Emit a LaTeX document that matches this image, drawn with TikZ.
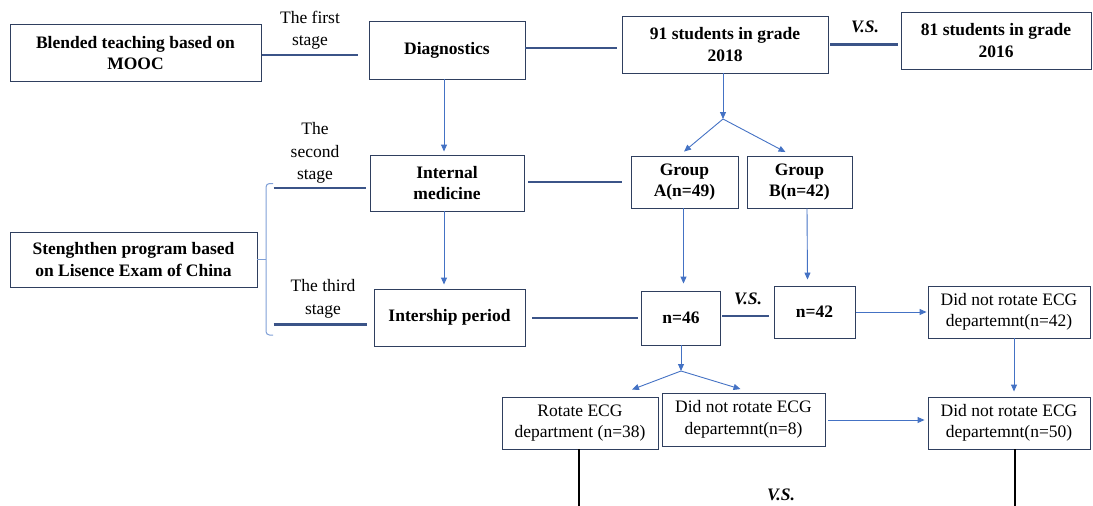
\documentclass[tikz,border=0pt]{standalone}
\usepackage{fontspec}
\setmainfont{Liberation Serif}
\usetikzlibrary{arrows.meta}
\definecolor{boxline}{HTML}{2F3F5F}
\definecolor{thickline}{HTML}{3B5488}
\definecolor{thinarrow}{HTML}{4472C4}
\definecolor{bracecol}{HTML}{7F9FD6}
\tikzset{
  bx/.style={draw=boxline, line width=0.9pt, align=center, inner sep=0pt,
    font=\fontsize{17.5}{21.5}\selectfont\bfseries},
  bxr/.style={bx, font=\fontsize{17.5}{21.5}\selectfont},
  lbl/.style={align=center, inner sep=0pt, font=\fontsize{17.5}{22.5}\selectfont},
  vs/.style={inner sep=0pt, font=\fontsize{17.5}{21}\selectfont\bfseries\itshape},
  link/.style={draw=thickline, line width=2.6pt},
  flow/.style={draw=thinarrow, line width=0.9pt, -{Triangle[length=7pt,width=6pt]}},
  tail/.style={draw=black, line width=2pt},
}
\begin{document}
\begin{tikzpicture}[x=1pt,y=-1pt]
\useasboundingbox (0,0) rectangle (1093,506);

% boxes
\node[bx, minimum width=251pt, minimum height=57pt] (blend) at (135.5,53) {Blended teaching based on\\MOOC};
\node[bx, minimum width=156pt, minimum height=58pt] (diag) at (447,50) {Diagnostics};
\node[bx, minimum width=206pt, minimum height=57pt] (g91) at (725,44.5) {91 students in grade\\2018};
\node[bx, minimum width=190pt, minimum height=57pt] (g81) at (996,40.5) {81 students in grade\\2016};
\node[bx, minimum width=154pt, minimum height=56pt] (intmed) at (447,183) {Internal\\medicine};
\node[bx, minimum width=107pt, minimum height=52pt] (grpA) at (684.5,182) {Group\\A(n=49)};
\node[bx, minimum width=105pt, minimum height=52pt] (grpB) at (799.5,182) {Group\\B(n=42)};
\node[bx, minimum width=247pt, minimum height=55pt] (streng) at (133.5,259.5) {Stenghthen program based\\on Lisence Exam of China};
\node[bx, minimum width=151pt, minimum height=57pt] (intern) at (449.5,317.5) {Intership period};
\node[bx, minimum width=79pt, minimum height=54pt] (n46) at (681,318) {n=46};
\node[bx, minimum width=81pt, minimum height=52pt] (n42) at (814.5,312) {n=42};
\node[bxr, minimum width=162pt, minimum height=52pt] (dn42) at (1009,312) {Did not rotate ECG\\departemnt(n=42)};
\node[bxr, minimum width=156pt, minimum height=52pt] (rot38) at (580,423) {Rotate ECG\\department (n=38)};
\node[bxr, minimum width=163pt, minimum height=53pt] (dn8) at (743.5,419.5) {Did not rotate ECG\\departemnt(n=8)};
\node[bxr, minimum width=162pt, minimum height=52pt] (dn50) at (1009,423) {Did not rotate ECG\\departemnt(n=50)};

% stage labels and comparison marks
\node[lbl] (st1) at (310,30) {The first\\stage};
\node[lbl] (st2) at (315,153) {The\\second\\stage};
\node[lbl] (st3) at (323,299) {The third\\stage};
\node[vs] (vs1) at (865,27) {V.S.};
\node[vs] (vs2) at (748,299) {V.S.};
\node[vs] (vs3) at (781,495) {V.S.};

% brace joining the second and third stages
\coordinate (brace) at (266,259.5);
\draw[draw=bracecol, line width=1pt, rounded corners=3.5pt]
  (273,183.5) -- (266,183.5) -- (266,335) -- (273,335);
\draw[draw=bracecol, line width=1pt] (streng.east) -- (brace);

% stage links (horizontal)
\coordinate (s2) at (273.5,188);
\coordinate (s3) at (273.5,324.5);
\draw[link] ([shift={(1pt,-2pt)}]blend.east) coordinate (l1) -- ([xshift=-11pt]diag.west |- l1);
\draw[link] ([yshift=2pt]diag.east) coordinate (l2) -- ([xshift=-5pt]g91.west |- l2);
\draw[link] ([xshift=2pt]g91.east) coordinate (l3) -- ([xshift=-3pt]g81.west |- l3);
\draw[link] (s2) -- ([xshift=-4pt]intmed.west |- s2);
\draw[link] ([shift={(4pt,1pt)}]intmed.east) coordinate (l4) -- ([xshift=-9pt]grpA.west |- l4);
\draw[link] (s3) -- ([xshift=-7pt]intern.west |- s3);
\draw[link] ([shift={(7pt,-0.5pt)}]intern.east) coordinate (l5) -- ([xshift=-3pt]n46.west |- l5);
\draw[link] ([shift={(1.5pt,2pt)}]n46.east) coordinate (l6) -- ([xshift=-5pt]n42.west |- l6);

% flow arrows
\draw[flow] ([xshift=-3pt]diag.south) -- ([shift={(-3pt,3pt)}]intmed.north);
\draw[flow] ([xshift=-3pt]intmed.south) -- ([shift={(-5.5pt,4pt)}]intern.north);
\coordinate (fk1) at (723,119);
\draw[flow] ([xshift=-2pt]g91.south) -- (fk1);
\draw[flow] (fk1) -- ([shift={(-0.5pt,4pt)}]grpA.north);
\draw[flow] (fk1) -- ([shift={(-14pt,3.5pt)}]grpB.north);
\draw[flow] ([xshift=-1pt]grpA.south) -- ([shift={(2.5pt,7pt)}]n46.north);
\draw[flow] ([xshift=7.5pt]grpB.south) -- ([shift={(-7pt,6pt)}]n42.north);
\draw[flow] ([xshift=1pt]n42.east) coordinate (a1) -- ([xshift=-1pt]dn42.west |- a1);
\draw[flow] ([xshift=5pt]dn42.south) -- ([xshift=5pt,yshift=5pt]dn50.north);
\coordinate (fk2) at (681,371);
\draw[flow] (n46.south) -- (fk2);
\draw[flow] (fk2) -- ([shift={(52pt,7pt)}]rot38.north);
\draw[flow] (fk2) -- ([shift={(-3pt,3.5pt)}]dn8.north);
\draw[flow] ([shift={(3pt,-0.5pt)}]dn8.east) coordinate (a2) -- ([xshift=-3pt]dn50.west |- a2);

% lines leading on to the final comparison
\coordinate (end38) at (579,506);
\coordinate (end50) at (1015,506);
\draw[tail] ([xshift=-1pt]rot38.south) -- (end38);
\draw[tail] ([xshift=6pt]dn50.south) -- (end50);
\end{tikzpicture}
\end{document}
